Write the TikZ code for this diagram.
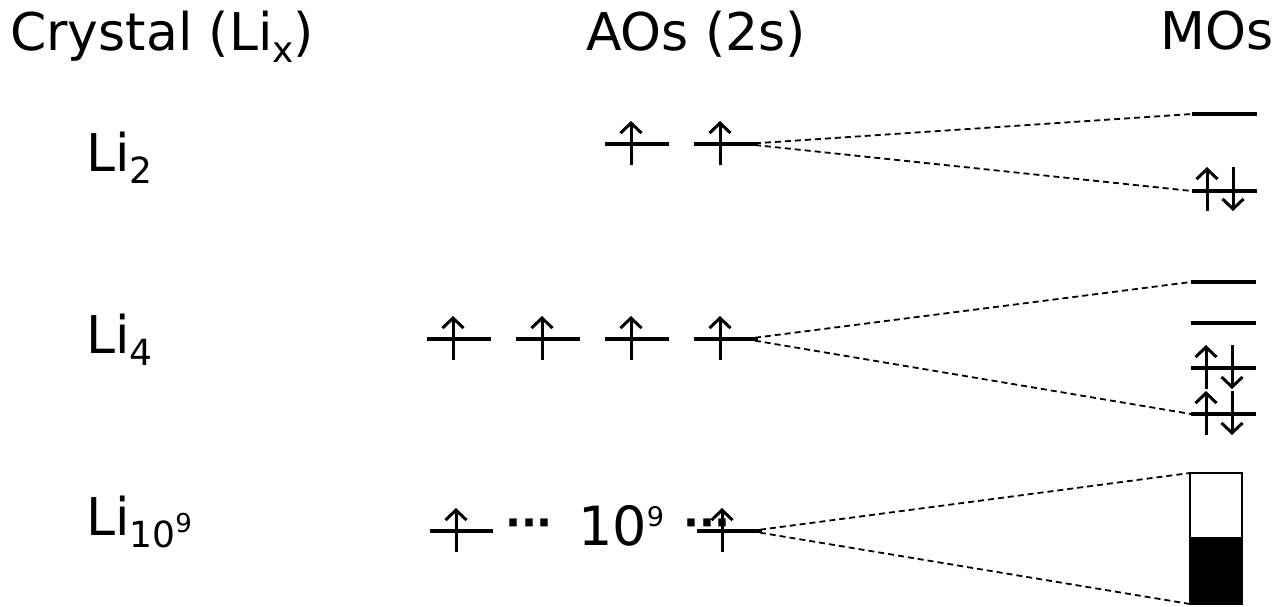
\documentclass[tikz,border=0pt]{standalone}
\usepackage{fontspec}
\setmainfont{DejaVu Sans}
\usetikzlibrary{arrows.meta}
\newcommand\lsub[1]{\raisebox{-12pt}{\fontsize{36}{36}\selectfont #1}}
\newcommand\lsup[1]{\raisebox{19pt}{\fontsize{27}{27}\selectfont #1}}
\begin{document}
\begin{tikzpicture}[x=1pt,y=-1pt,
  lab/.style={font=\fontsize{52}{52}\selectfont, anchor=base west, inner sep=0pt},
  lvl/.style={line width=3.2pt},
  spin/.style={line width=3pt, -{Straight Barb[length=10pt,width=21pt]}},
  corr/.style={line width=1.8pt, dash pattern=on 6pt off 4pt},
  dots/.style={font=\bfseries\fontsize{42}{42}\selectfont, inner sep=0pt}]
\useasboundingbox (0,0) rectangle (1276,606);
% titles
\node[lab] (t1) at (10,50) {Crystal (Li\lsub{x})};
\node[lab] (t2) at (586,50) {AOs (2s)};
\node[lab] (t3) at (1160,49) {MOs};
% row labels
\node[lab] (l2) at (86,171) {Li\lsub{2}};
\node[lab] (l4) at (86,353) {Li\lsub{4}};
\node[lab] (l9) at (86,535) {Li\raisebox{-12pt}{\fontsize{36}{36}\selectfont 10\raisebox{15pt}{\fontsize{26}{26}\selectfont 9}}};
% ---------- Li2 row ----------
\draw[lvl] (605,144) -- (669,144);
\draw[lvl] (694,144) -- (758,144);
\draw[spin] (631,165) -- (631,121);
\draw[spin] (720,165) -- (720,121);
\coordinate (a2) at (745,144);
\draw[lvl] (1192,114) -- (1257,114);
\draw[lvl] (1192,191) -- (1257,191);
\coordinate (m2u) at (1192,114);
\coordinate (m2d) at (1192,191);
\draw[spin] (1207,211) -- (1207,167);
\draw[spin] (1233,167) -- (1233,211);
\draw[corr] (a2) -- (m2u);
\draw[corr] (a2) -- (m2d);
% ---------- Li4 row ----------
\foreach \x in {427,516,605,694}{
  \draw[lvl] (\x,339) -- ++(64,0);
  \draw[spin] (\x+26,360) -- (\x+26,316);
}
\coordinate (a4) at (745,339);
\foreach \y in {282,323,368,414}{
  \draw[lvl] (1191,\y) -- (1256,\y);
}
\draw[spin] (1206,389) -- (1206,345);
\draw[spin] (1232,345) -- (1232,389);
\draw[spin] (1206,435) -- (1206,391);
\draw[spin] (1232,391) -- (1232,435);
\coordinate (m4u) at (1191,282);
\coordinate (m4d) at (1191,414);
\draw[corr] (a4) -- (m4u);
\draw[corr] (a4) -- (m4d);
% ---------- Li10^9 row ----------
\draw[lvl] (430,531) -- (493,531);
\draw[spin] (456,552) -- (456,508);
\node[dots] (d1) at (529,528) {···};
\node[lab, font=\fontsize{54}{54}\selectfont] (n9) at (578,545) {10\lsup{9}};
\node[dots] (d2) at (707,528) {···};
\draw[lvl] (697,531) -- (762,531);
\draw[spin] (722,552) -- (722,508);
\coordinate (a9) at (750,531);
\fill (1190,537) rectangle (1242,604);
\draw[line width=2.6pt] (1190,473) rectangle (1242,604);
\coordinate (m9u) at (1190,473);
\coordinate (m9d) at (1190,604);
\draw[corr] (a9) -- (m9u);
\draw[corr] (a9) -- (m9d);
\end{tikzpicture}
\end{document}
